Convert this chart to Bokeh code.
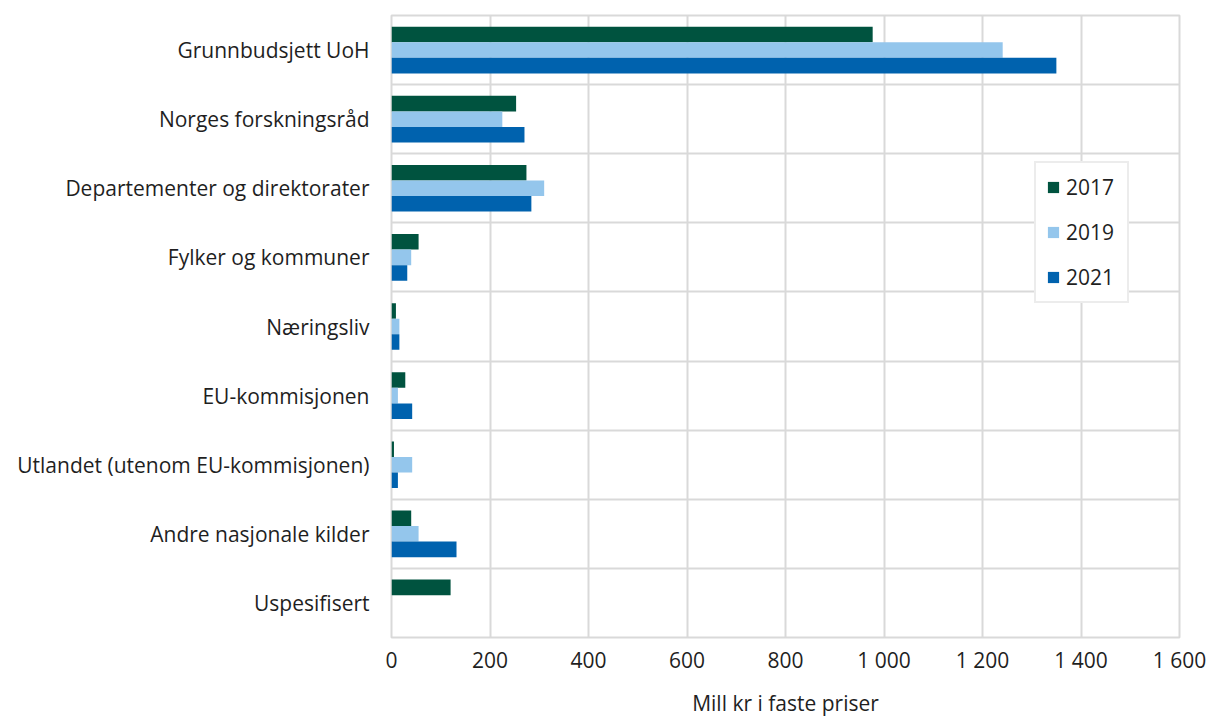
import numpy as np
from bokeh.plotting import figure
from bokeh.models import Range1d, FixedTicker, Legend, LegendItem, ColumnDataSource
from bokeh.embed import file_html
from bokeh.resources import INLINE

categories = ["Grunnbudsjett UoH", "Norges forskningsråd", "Departementer og direktorater",
              "Fylker og kommuner", "Næringsliv", "EU-kommisjonen",
              "Utlandet (utenom EU-kommisjonen)", "Andre nasjonale kilder", "Uspesifisert"]
v2017 = [977, 253, 274, 55, 9, 28, 5, 40, 120]
v2019 = [1241, 225, 310, 40, 16, 13, 42, 55, 0]
v2021 = [1350, 270, 284, 32, 16, 42, 13, 132, 0]
years = ["2017", "2019", "2021"]
colors = ["#00533F", "#94C6EC", "#0062AE"]
x_ticks = [0, 200, 400, 600, 800, 1000, 1200, 1400, 1600]
x_tick_labels = ["0", "200", "400", "600", "800", "1 000", "1 200", "1 400", "1 600"]

FONT = "Open Sans"
TXT = "#1f1f1f"
GRID = "#D9D9D9"
FS = "21px"

n = len(categories)
centers = np.arange(n) + 0.5
bar_h = 0.225

p = figure(width=1213, height=712, output_backend="svg", toolbar_location=None,
           x_range=Range1d(0, 1600), y_range=Range1d(n, 0),
           frame_width=788, frame_height=622,
           min_border_left=391, min_border_right=34, min_border_top=15, min_border_bottom=75)
p.background_fill_color = "white"
p.border_fill_color = "white"
p.outline_line_color = GRID
p.outline_line_width = 2

renderers = []
for k, (vals, col) in enumerate(zip([v2017, v2019, v2021], colors)):
    src = ColumnDataSource(dict(y=centers + (k - 1) * bar_h, right=vals))
    r = p.hbar(y="y", left=0, right="right", height=bar_h, source=src,
               fill_color=col, line_color=None)
    renderers.append(r)

# axes
p.xaxis.ticker = FixedTicker(ticks=x_ticks)
p.xaxis.major_label_overrides = {t: l for t, l in zip(x_ticks, x_tick_labels)}
p.xaxis.axis_label = "Mill kr i faste priser"
p.xaxis.axis_label_text_font = FONT
p.xaxis.axis_label_text_font_size = FS
p.xaxis.axis_label_text_font_style = "normal"
p.xaxis.axis_label_text_color = TXT
p.xaxis.axis_label_standoff = 12
p.xaxis.major_label_text_font = FONT
p.xaxis.major_label_text_font_size = FS
p.xaxis.major_label_text_color = TXT
p.xaxis.major_label_standoff = 2
p.xaxis.axis_line_color = None
p.xaxis.major_tick_line_color = None
p.xaxis.minor_tick_line_color = None

p.yaxis.ticker = FixedTicker(ticks=list(centers))
p.yaxis.major_label_overrides = {float(c): cat for c, cat in zip(centers, categories)}
p.yaxis.major_label_text_font = FONT
p.yaxis.major_label_text_font_size = FS
p.yaxis.major_label_text_color = TXT
p.yaxis.major_label_standoff = 16
p.yaxis.axis_line_color = None
p.yaxis.major_tick_line_color = None
p.yaxis.minor_tick_line_color = None

p.xgrid.grid_line_color = GRID
p.xgrid.grid_line_width = 2
p.ygrid.ticker = FixedTicker(ticks=list(np.arange(1, n)))
p.ygrid.grid_line_color = GRID
p.ygrid.grid_line_width = 2

items = [LegendItem(label=y, renderers=[r]) for y, r in zip(years, renderers)]
legend = Legend(items=items, location=(643, 334), orientation="vertical",
                label_text_font=FONT, label_text_font_size=FS, label_text_color=TXT,
                glyph_width=14, glyph_height=14, label_height=20, label_width=51,
                spacing=17, label_standoff=6, padding=10, margin=0,
                border_line_color=GRID, border_line_width=2,
                background_fill_color="white", background_fill_alpha=1.0)
p.add_layout(legend, "center")

open("out.html", "w").write(file_html(p, INLINE))
